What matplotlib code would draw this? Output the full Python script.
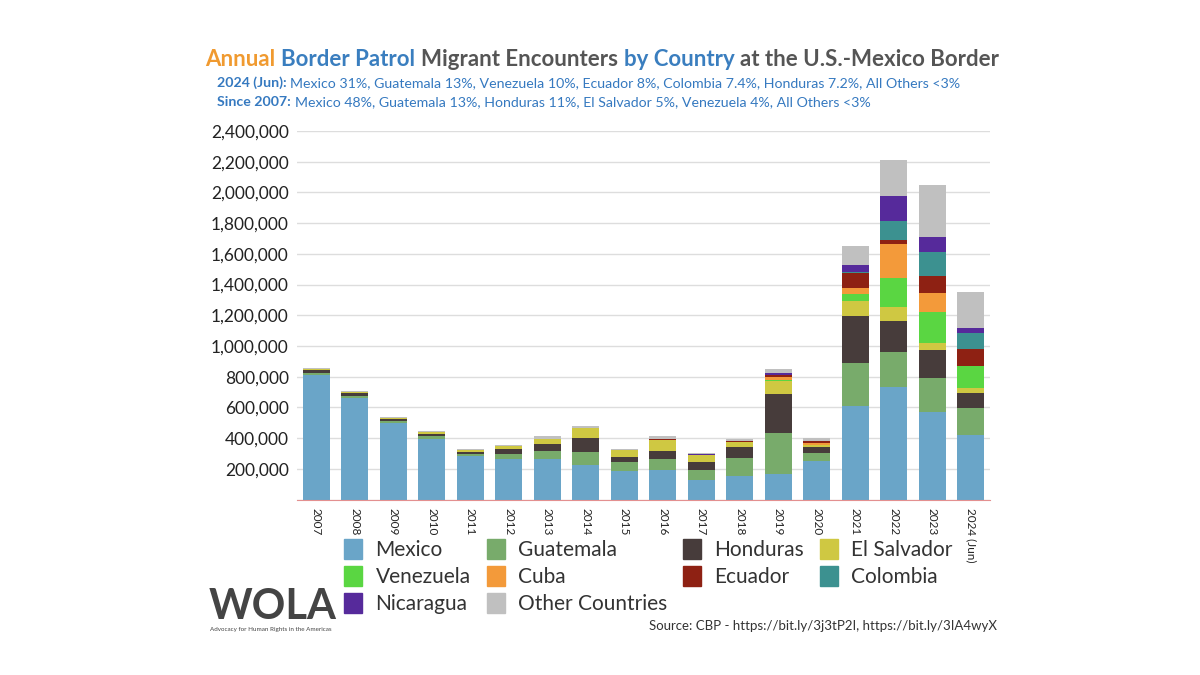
"""Annual Border Patrol migrant encounters by country, stacked bars."""
import numpy as np
import matplotlib
matplotlib.use("Agg")
import matplotlib.pyplot as plt
from matplotlib.patches import Patch

years = ["2007", "2008", "2009", "2010", "2011", "2012", "2013", "2014", "2015",
         "2016", "2017", "2018", "2019", "2020", "2021", "2022", "2023", "2024 (Jun)"]

mexico      = [808773, 661766, 495582, 396819, 280580, 262341, 265409, 226771, 186017,
               190760, 127938, 152257, 166458, 253118, 608037, 730000, 572000, 420000]
guatemala   = [12000, 13000, 13000, 16000, 17582, 34453, 47900, 80473, 56691,
               74601, 65871, 115722, 264168, 47243, 279033, 232000, 217000, 178000]
honduras    = [21000, 17000, 14000, 13000, 11270, 29932, 46448, 90968, 33445,
               52952, 47260, 76513, 253795, 40091, 308931, 200000, 182000, 98000]
el_salvador = [10000, 10000, 11000, 13000, 10368, 20806, 36957, 66419, 43392,
               71848, 49760, 31369, 89811, 16484, 95930, 93000, 50000, 33000]
venezuela   = [0, 0, 0, 0, 0, 0, 0, 0, 0,
               0, 0, 0, 1000, 1200, 47752, 189000, 202000, 138000]
cuba        = [0, 0, 0, 0, 0, 0, 0, 0, 0,
               0, 0, 0, 21000, 9822, 38139, 217000, 120000, 4000]
ecuador     = [0, 0, 0, 0, 0, 0, 0, 2000, 1500,
               2000, 1500, 2000, 13000, 11861, 95692, 28000, 113000, 110000]
colombia    = [0, 0, 0, 0, 0, 0, 0, 0, 0,
               0, 0, 0, 1000, 500, 6000, 124000, 154000, 101000]
nicaragua   = [0, 0, 0, 0, 0, 0, 0, 1000, 800,
               1000, 800, 1500, 13000, 2300, 49841, 165000, 98000, 33000]
others      = [7000, 3000, 6000, 8000, 7700, 9400, 17700, 11700, 9500,
               17700, 10700, 17200, 28000, 17000, 124000, 232000, 341000, 234000]

countries = ["Mexico", "Guatemala", "Honduras", "El Salvador", "Venezuela",
             "Cuba", "Ecuador", "Colombia", "Nicaragua", "Other Countries"]
series = [mexico, guatemala, honduras, el_salvador, venezuela,
          cuba, ecuador, colombia, nicaragua, others]
colors = ["#6aa5c8", "#78ab6b", "#473c3b", "#cfc842", "#5ad642",
          "#f39a3a", "#8e2113", "#3c9190", "#562a9b", "#c0c0c0"]

plt.rcParams["font.family"] = ["Lato", "DejaVu Sans"]

fig = plt.figure(figsize=(12, 6.75), dpi=100)
ax = fig.add_axes([0.2475, 0.26, 0.5775, 0.546])

x = np.arange(len(years))
bottom = np.zeros(len(years))
for vals, col in zip(series, colors):
    ax.bar(x, vals, bottom=bottom, width=0.7, color=col, zorder=3)
    bottom += np.array(vals)

ax.set_xlim(-0.5, len(years) - 0.5)
ax.set_ylim(0, 2400000)
ax.set_yticks(np.arange(0, 2400001, 200000))
ax.set_yticklabels(["" if v == 0 else f"{v:,}" for v in range(0, 2400001, 200000)],
                   fontsize=12.5, color="#222222")
ax.set_xticks(x)
ax.set_xticklabels(years, rotation=270, fontsize=8.5, color="#222222", va="top")
ax.tick_params(length=0, pad=6)
ax.grid(axis="y", color="#dddddd", linewidth=1, zorder=0)
for s in ["top", "right", "left"]:
    ax.spines[s].set_visible(False)
ax.spines["bottom"].set_color("#e39090")
ax.spines["bottom"].set_linewidth(0.8)
ax.spines["bottom"].set_zorder(4)

# legend, reordered so matplotlib's column-first fill reads row by row
order = [0, 4, 8, 1, 5, 9, 2, 6, 3, 7]
handles = [Patch(color=colors[i]) for i in order]
labels = [countries[i] for i in order]
fig.legend(handles, labels, ncol=4, loc="upper left",
           bbox_to_anchor=(0.287, 0.201), frameon=False, fontsize=15,
           handlelength=0.86, handleheight=1.06, handletextpad=0.63,
           columnspacing=0.78, labelspacing=0.3, borderpad=0, borderaxespad=0,
           labelcolor="#333333")

renderer = fig.canvas.get_renderer()


def rich_text(xpos, ypos, parts, size):
    """Draw consecutive text pieces with their own colour and weight."""
    probe = fig.text(0, 0, "x x", fontsize=size)
    probe2 = fig.text(0, 0, "xx", fontsize=size)
    space = (probe.get_window_extent(renderer).width
             - probe2.get_window_extent(renderer).width) / fig.bbox.width
    probe.remove()
    probe2.remove()
    for txt, col, weight in parts:
        t = fig.text(xpos, ypos, txt, color=col, fontweight=weight,
                     fontsize=size, va="baseline", ha="left")
        xpos += t.get_window_extent(renderer).width / fig.bbox.width + space


orange, blue, gray = "#f09a30", "#3a7ebf", "#555555"
rich_text(0.171, 0.902, [("Annual", orange, "bold"), ("Border Patrol", blue, "bold"),
                         ("Migrant Encounters", gray, "bold"), ("by Country", blue, "bold"),
                         ("at the U.S.-Mexico Border", gray, "bold")], 16)
sub_blue = "#3579c0"
rich_text(0.181, 0.871, [("2024 (Jun):", sub_blue, "bold"),
                         ("Mexico 31%, Guatemala 13%, Venezuela 10%, Ecuador 8%, Colombia 7.4%, "
                          "Honduras 7.2%, All Others <3%", sub_blue, "normal")], 10.2)
rich_text(0.181, 0.843, [("Since 2007:", sub_blue, "bold"),
                         ("Mexico 48%, Guatemala 13%, Honduras 11%, El Salvador 5%, "
                          "Venezuela 4%, All Others <3%", sub_blue, "normal")], 10.2)

# WOLA mark and source line
fig.text(0.174, 0.083, "WOLA", fontsize=30, fontweight="bold", color="#444444",
         va="baseline", ha="left")
fig.text(0.175, 0.068, "Advocacy for Human Rights in the Americas", fontsize=4.5,
         color="#444444", va="center", ha="left")
fig.text(0.831, 0.073, "Source: CBP - https://bit.ly/3j3tP2I, https://bit.ly/3IA4wyX",
         fontsize=9.5, color="#333333", ha="right", va="center")

fig.savefig("out.png", dpi=100)
